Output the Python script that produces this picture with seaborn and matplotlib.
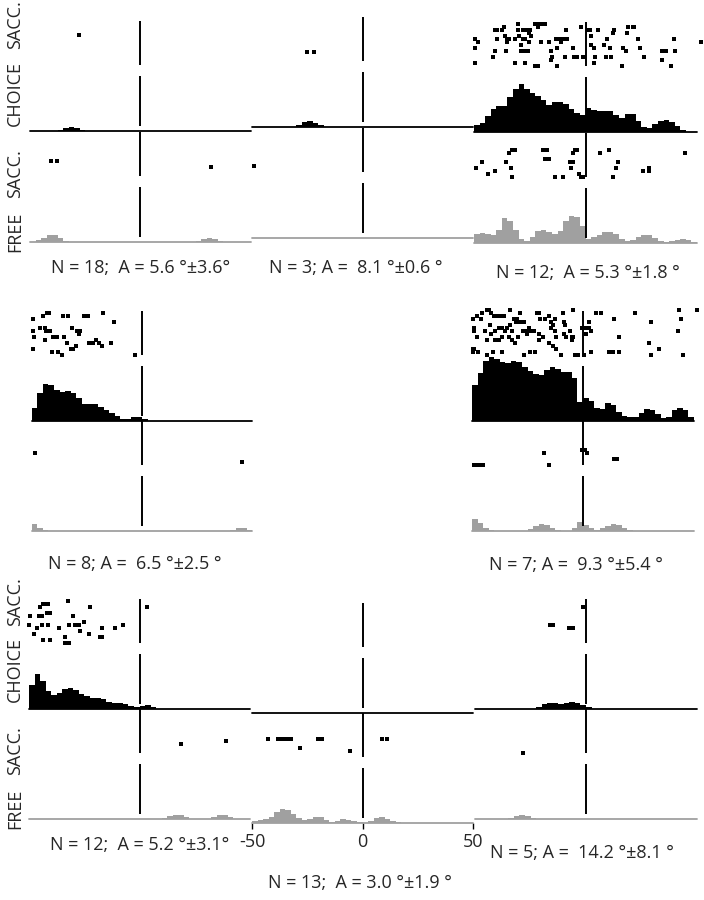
import matplotlib
matplotlib.use("Agg")

import numpy as np
import pandas as pd
import matplotlib.pyplot as plt
import seaborn as sns

sns.set_style("white")
plt.rcParams["font.family"] = ["Open Sans", "DejaVu Sans"]

# histogram bins (deg, relative to target)
BIN_EDGES = np.linspace(-50, 50, 41)
BIN_CENTERS = (BIN_EDGES[:-1] + BIN_EDGES[1:]) / 2

# ---- histograms (one value per 2.5 deg bin, -50..50) ----
p1_choice = [0, 0, 0, 0, 0, 1, 3, 4, 3, 1, 0, 0, 0, 0, 0, 0, 0, 0, 0, 0,
             0, 0, 0, 0, 0, 0, 0, 0, 0, 0, 0, 0, 0, 0, 0, 0, 0, 0, 0, 0]
p1_free = [0, 2, 4, 7, 7, 4, 1, 0, 0, 0, 0, 0, 0, 0, 0, 0, 0, 0, 0, 0,
           0, 0, 0, 0, 0, 0, 0, 0, 0, 0, 1, 3, 4, 3, 1, 0, 0, 0, 0, 0]
p2_choice = [0, 0, 0, 0, 0, 0, 0, 0, 2, 5, 6, 4, 2, 0, 0, 0, 0, 0, 0, 0,
             0, 0, 0, 0, 0, 0, 0, 0, 0, 0, 0, 0, 0, 0, 0, 0, 0, 0, 0, 0]
p2_free = [0, 0, 0, 0, 0, 0, 0, 0, 0, 0, 0, 0, 0, 0, 0, 0, 0, 0, 0, 0,
           0, 0, 0, 0, 0, 0, 0, 0, 0, 0, 0, 0, 0, 0, 0, 0, 0, 0, 0, 0]
p3_choice = [7, 9, 16, 23, 26, 26, 35, 43, 48, 43, 39, 36, 32, 27, 30, 30, 28, 23, 19, 17,
             24, 22, 21, 21, 21, 17, 14, 18, 18, 11, 5, 4, 8, 11, 12, 10, 6, 2, 0, 0]
p3_free = [9, 10, 9, 8, 13, 25, 22, 13, 4, 2, 6, 12, 13, 11, 9, 12, 22, 27, 26, 17,
           4, 6, 8, 11, 11, 9, 4, 2, 3, 6, 8, 8, 5, 2, 1, 2, 3, 4, 3, 1]
p4_choice = [13, 28, 37, 36, 31, 29, 30, 28, 23, 17, 17, 17, 14, 11, 8, 5, 2, 2, 4, 4,
             2, 0, 0, 0, 0, 0, 0, 0, 0, 0, 0, 0, 0, 0, 0, 0, 0, 0, 0, 0]
p4_free = [7, 3, 1, 0, 0, 0, 0, 0, 0, 0, 0, 0, 0, 0, 0, 0, 0, 0, 0, 0,
           0, 0, 0, 0, 0, 0, 0, 0, 0, 0, 0, 0, 0, 0, 0, 0, 1, 3, 3, 1]
p5_choice = [36, 48, 60, 64, 62, 59, 58, 60, 59, 54, 50, 47, 46, 51, 54, 52, 49, 49, 43, 19,
             23, 20, 13, 12, 18, 16, 9, 5, 4, 4, 8, 12, 11, 7, 3, 4, 11, 13, 11, 4]
p5_free = [12, 8, 3, 1, 0, 0, 0, 0, 0, 0, 2, 5, 7, 6, 3, 1, 0, 0, 3, 9,
           6, 3, 1, 3, 5, 7, 6, 3, 1, 0, 0, 0, 0, 0, 0, 0, 0, 0, 0, 0]
p6_choice = [24, 35, 28, 18, 14, 16, 20, 21, 19, 15, 13, 11, 11, 10, 7, 6, 6, 5, 3, 2,
             3, 4, 2, 0, 0, 0, 0, 0, 0, 0, 0, 0, 0, 0, 0, 0, 0, 0, 0, 0]
p6_free = [0, 0, 0, 0, 0, 0, 0, 0, 0, 0, 0, 0, 0, 0, 0, 0, 0, 0, 0, 0,
           0, 0, 0, 0, 1, 3, 4, 4, 2, 0, 0, 0, 0, 2, 4, 4, 2, 0, 0, 0]
p7_choice = [0, 0, 0, 0, 0, 0, 0, 0, 0, 0, 0, 0, 0, 0, 0, 0, 0, 0, 0, 0,
             0, 0, 0, 0, 0, 0, 0, 0, 0, 0, 0, 0, 0, 0, 0, 0, 0, 0, 0, 0]
p7_free = [2, 3, 4, 6, 11, 14, 13, 9, 5, 3, 4, 6, 6, 3, 1, 2, 4, 3, 2, 1,
           0, 2, 5, 6, 4, 2, 1, 0, 0, 0, 0, 0, 0, 0, 0, 0, 0, 0, 0, 0]
p8_choice = [0, 0, 0, 0, 0, 0, 0, 0, 0, 0, 0, 2, 5, 6, 6, 5, 6, 7, 6, 4,
             2, 0, 0, 0, 0, 0, 0, 0, 0, 0, 0, 0, 0, 0, 0, 0, 0, 0, 0, 0]
p8_free = [0, 0, 0, 0, 0, 0, 1, 3, 4, 3, 1, 0, 0, 0, 0, 0, 0, 0, 0, 0,
           0, 0, 0, 0, 0, 0, 0, 0, 0, 0, 0, 0, 0, 0, 0, 0, 0, 0, 0, 0]

# ---- saccade rasters: (endpoint deg, trial) ----
p1_choice_dots = [(-28.0, 10)]
p1_free_dots = [(-40.5, 5), (-37.8, 5), (31.9, 3)]
p2_choice_dots = [(-25.3, 3), (-22.0, 3)]
p2_free_dots = [(-49.1, 2)]
p3_choice_dots = [
    (-30.3, 14), (-22.5, 14), (-21.3, 14), (-20.1, 14), (-18.0, 14), (-21.3, 13), (-1.8, 13),
    (21.9, 13), (-36.6, 13), (-40.8, 12), (-39.6, 12), (-37.5, 12), (-30.3, 12), (-28.1, 12),
    (-26.6, 12), (-25.1, 12), (-8.6, 12), (0.9, 12), (2.0, 12), (5.4, 12), (12.9, 12),
    (19.2, 13), (21.5, 13), (18.5, 11), (-36.3, 10), (-35.1, 9), (-34.1, 9), (-31.8, 9),
    (-30.0, 10), (-28.1, 9), (-27.0, 9), (-25.5, 11), (-24.3, 10), (-49.5, 9), (-19.8, 8),
    (-16.5, 8), (-13.1, 9), (-12.0, 9), (-10.5, 9), (-9.6, 9), (-8.1, 9), (-11.1, 8),
    (2.4, 10), (9.5, 9), (12.5, 11), (23.4, 9), (39.9, 9), (52.0, 8), (-48.0, 8), (-39.6, 9),
    (-35.1, 8), (-29.1, 7), (-25.5, 8), (-12.6, 6), (-5.6, 6), (2.4, 7), (3.9, 6), (8.4, 7),
    (11.0, 6), (17.0, 6), (24.5, 6), (40.2, 5), (-40.5, 5), (-35.6, 5), (-29.1, 5),
    (-27.3, 5), (-25.8, 5), (-49.5, 6), (-41.6, 3), (-15.3, 5), (-15.0, 3), (-9.0, 3),
    (-5.1, 3), (-3.6, 3), (-1.1, 3), (4.2, 3), (9.2, 3), (11.4, 3), (18.2, 5), (26.4, 3),
    (34.5, 5), (36.0, 5), (34.2, 2), (-49.5, 1), (-31.8, 1), (-27.3, 1), (-22.8, 0),
    (-21.3, 0), (-15.6, 2), (-12.6, 0), (-0.6, 3), (3.9, 1), (16.2, 0), (38.4, 0)]
p3_free_dots = [
    (-33.0, 9), (-31.8, 9), (-34.1, 8), (-46.5, 5), (-35.6, 5), (-33.6, 3), (-49.1, 3),
    (-43.5, 1), (-40.8, 2), (-33.0, 0), (-19.1, 9), (-17.1, 9), (-18.3, 6), (-16.5, 6),
    (-13.8, 0), (-10.1, 0), (-4.8, 9), (-3.6, 9), (-5.6, 8), (-7.1, 5), (-5.6, 5), (-6.3, 3),
    (-3.0, 1), (-1.8, 0), (-1.1, 0), (6.5, 8), (10.5, 9), (14.7, 5), (13.5, 3), (12.5, 0),
    (26.0, 2), (28.5, 3), (28.5, 2), (44.7, 8)]
p4_choice_dots = [
    (-43.3, 14), (-42.2, 14), (-35.7, 13), (-33.8, 13), (-45.2, 13), (-26.2, 13), (-24.7, 13),
    (-17.6, 14), (-49.5, 12), (-12.7, 11), (-46.3, 9), (-44.3, 9), (-43.3, 8), (-41.8, 8),
    (-43.7, 8), (-49.5, 8), (-49.0, 6), (-32.0, 9), (-29.7, 8), (-28.2, 8), (-28.7, 7),
    (-40.3, 6), (-38.8, 6), (-35.3, 6), (-44.0, 5), (-34.2, 4), (-24.1, 4), (-22.2, 4),
    (-21.1, 5), (-19.6, 4), (-18.4, 3), (-14.2, 4), (-49.5, 2), (-32.3, 2), (-31.2, 2),
    (-30.2, 3), (-40.7, 1), (-38.0, 1), (-36.5, 0), (-3.0, 0)]
p4_free_dots = [(-48.6, 4), (45.4, 1)]
p5_choice_dots = [
    (-43.3, 15), (-42.2, 15), (-41.3, 14), (-45.6, 14), (-40.3, 13), (-39.2, 13), (-32.7, 15),
    (-28.2, 14), (-20.7, 14), (-19.6, 14), (-16.9, 12), (-15.1, 13), (-9.0, 14), (-4.5, 15),
    (5.7, 14), (8.0, 14), (14.0, 12), (23.5, 14), (43.4, 15), (51.3, 15), (-49.5, 12),
    (-47.8, 13), (-45.9, 12), (-38.0, 13), (-36.8, 13), (-35.7, 13), (-31.2, 12), (-29.7, 12),
    (-28.7, 11), (-27.8, 11), (-26.7, 11), (-30.2, 11), (-32.7, 10), (-34.2, 9), (-36.5, 9),
    (-38.0, 9), (-41.8, 10), (-49.0, 9), (-19.2, 12), (-14.6, 11), (-13.6, 10), (-12.7, 12),
    (-14.2, 9), (-8.6, 11), (-8.1, 10), (2.7, 11), (30.6, 11), (44.2, 12), (-49.0, 8),
    (-44.0, 8), (-41.3, 7), (-39.8, 8), (-35.0, 8), (-32.0, 8), (-27.1, 8), (-25.9, 8),
    (-24.4, 9), (-23.7, 8), (-22.2, 8), (-25.2, 7), (-29.3, 6), (-33.5, 6), (-36.5, 6),
    (-38.0, 5), (-39.8, 5), (-43.3, 5), (-47.8, 6), (-19.6, 7), (-18.1, 6), (-12.7, 8),
    (-12.1, 6), (-8.6, 7), (-7.5, 6), (-6.0, 8), (-4.5, 6), (-0.6, 9), (1.2, 9), (2.7, 9),
    (3.5, 8), (1.2, 7), (16.0, 6), (42.7, 8), (-49.5, 2), (-48.9, 2), (-47.1, 1), (-49.5, 1),
    (-43.3, 0), (-40.7, 1), (-36.5, 1), (-26.7, 0), (-23.7, 1), (-21.7, 1), (-15.4, 4),
    (-13.6, 3), (-12.1, 2), (-10.1, 0), (-4.8, 5), (-3.6, 0), (-2.1, 0), (0.5, 0), (3.5, 1),
    (11.8, 1), (13.3, 1), (16.0, 1), (29.9, 4), (34.1, 2), (30.6, 0), (45.2, 0), (-5.1, 6),
    (-19.9, 5), (-32.0, 5), (-30.5, 4)]
p5_free_dots = [(-48.9, 0), (-47.7, 0), (-46.5, 0), (-45.2, 0), (-17.6, 4), (-15.4, 0),
                (-0.6, 5), (0.9, 5), (2.0, 4), (14.0, 2), (15.5, 2)]
p6_choice_dots = [
    (-43.7, 13), (-42.2, 13), (-41.3, 13), (-32.3, 14), (-44.8, 12), (-22.3, 12), (-49.7, 9),
    (-45.5, 9), (-44.3, 9), (-41.8, 10), (-40.7, 10), (-30.2, 9), (-50.0, 6), (-46.3, 5),
    (-44.0, 6), (-41.3, 6), (-36.5, 5), (-32.0, 6), (-29.0, 6), (-27.5, 6), (-26.8, 4),
    (-25.3, 7), (-16.8, 5), (-11.1, 5), (-7.3, 6), (-47.8, 3), (-22.8, 3), (-17.8, 2),
    (-16.8, 2), (-33.8, 2), (-43.7, 1), (-40.3, 1), (-33.8, 0), (-31.7, 0), (3.6, 12)]
p6_free_dots = [(18.6, 3), (39.1, 4)]
p7_choice_dots = []
p7_free_dots = [(-42.9, 6), (-38.4, 6), (-37.2, 6), (-36.0, 6), (-34.8, 6), (-33.5, 6),
                (-32.4, 6), (-20.0, 6), (-18.5, 6), (9.0, 6), (11.3, 6), (-28.5, 3), (-5.7, 2)]
p8_choice_dots = [(-1.2, 12), (-16.2, 6), (-15.0, 6), (-7.5, 5), (-6.0, 5)]
p8_free_dots = [(-28.5, 0)]

captions = ["N = 18;  A = 5.6 °±3.6°", "N = 3; A =  8.1 °±0.6 °", "N = 12;  A = 5.3 °±1.8 °",
            "N = 8; A =  6.5 °±2.5 °", "N = 7; A =  9.3 °±5.4 °", "N = 12;  A = 5.2 °±3.1°",
            "N = 13;  A = 3.0 °±1.9 °", "N = 5; A =  14.2 °±8.1 °"]

# ---- layout (pixels) ----
W, H = 704, 900
SEC_H = 110
RASTER_BASE, ROW_H = 66, 3
panel_left = [30, 252, 474, 32, 472, 29, 252, 475]
panel_right = [251, 473, 697, 252, 694, 250, 473, 697]
choice_base = [131, 127, 132, 421, 421, 709, 713, 709]
free_base = [242, 238, 243, 531, 531, 819, 823, 819]
caption_xy = [(141, 268), (356, 268), (588, 273), (135, 564),
              (576, 565), (140, 845), (360, 883), (582, 853)]

choice_hists = [p1_choice, p2_choice, p3_choice, p4_choice, p5_choice, p6_choice, p7_choice, p8_choice]
free_hists = [p1_free, p2_free, p3_free, p4_free, p5_free, p6_free, p7_free, p8_free]
choice_dots = [p1_choice_dots, p2_choice_dots, p3_choice_dots, p4_choice_dots,
               p5_choice_dots, p6_choice_dots, p7_choice_dots, p8_choice_dots]
free_dots = [p1_free_dots, p2_free_dots, p3_free_dots, p4_free_dots,
             p5_free_dots, p6_free_dots, p7_free_dots, p8_free_dots]

GRAY = "#a0a0a0"
FS = 13

fig = plt.figure(figsize=(W / 100, H / 100), dpi=100)


def draw_section(left, right, base_y, hist, dots, fill, line_color):
    ax = fig.add_axes([left / W, 1 - base_y / H, (right - left) / W, SEC_H / H])
    ax.patch.set_alpha(0)
    if sum(hist) > 0:
        hdf = pd.DataFrame({"deg": BIN_CENTERS, "rate": hist})
        sns.histplot(data=hdf, x="deg", weights="rate", bins=list(BIN_EDGES),
                     element="step", fill=True, color=fill, alpha=1, linewidth=0, ax=ax)
    if dots:
        d = pd.DataFrame(dots, columns=["x", "trial"])
        d["y"] = RASTER_BASE + ROW_H * d["trial"]
        sns.scatterplot(data=d, x="x", y="y", marker="s", s=7,
                        color="black", linewidth=0, clip_on=False, ax=ax)
    ax.axhline(0, color=line_color, lw=1.3, clip_on=False)
    ax.vlines([0, 0], [5, 66], [55, 110], colors="black", lw=1.4, clip_on=False)
    ax.set_xlim(-50, 50)
    ax.set_ylim(0, SEC_H)
    ax.set_xlabel("")
    ax.set_ylabel("")
    ax.set_xticks([])
    ax.set_yticks([])
    sns.despine(ax=ax, left=True, bottom=True)
    return ax


for i in range(8):
    draw_section(panel_left[i], panel_right[i], choice_base[i], choice_hists[i],
                 choice_dots[i], "black", "black")
    ax = draw_section(panel_left[i], panel_right[i], free_base[i], free_hists[i],
                      free_dots[i], GRAY, GRAY)
    if i == 6:
        ax.set_xticks([-50, 0, 50])
        ax.set_xticklabels(["-50", "0", "50"])
        ax.tick_params(axis="x", bottom=True, length=4, width=1, color="black",
                       labelsize=FS, pad=3)
    cx, cy = caption_xy[i]
    fig.text(cx / W, 1 - cy / H, captions[i], ha="center", va="center", fontsize=FS)

# row labels on the left column
for fb in [242, 819]:
    for txt, off in [("SACC.", 217), ("CHOICE", 149), ("SACC.", 68), ("FREE", 10)]:
        fig.text(15 / W, 1 - (fb - off) / H, txt, rotation=90, ha="center", va="center",
                 fontsize=FS)

fig.savefig("out.png", dpi=100)
plt.close(fig)
